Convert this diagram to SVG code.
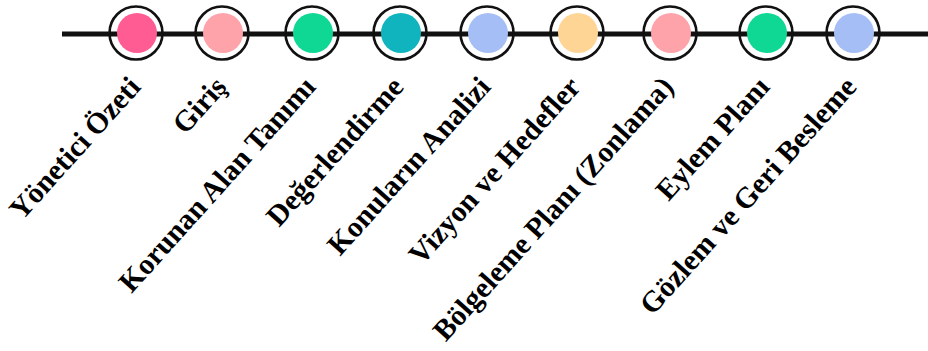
<svg xmlns="http://www.w3.org/2000/svg" width="928" height="351" viewBox="0 0 928 351">
<style>
.ring{fill:none;stroke:#111;stroke-width:2.6}
.lbl{font-family:"Liberation Serif","Times New Roman",serif;font-weight:bold;font-size:29.5px;fill:#000;text-anchor:end}
</style>
<rect width="928" height="351" fill="#fff"/>
<g id="connectors">
<line x1="62" y1="34" x2="928" y2="34" stroke="#111" stroke-width="5"/>
</g>
<g id="n1"><circle class="ring" cx="136" cy="33" r="26.5"/><circle cx="137" cy="33" r="20" fill="#FF5C93"/><text class="lbl" transform="translate(142,88) rotate(-48)">Yönetici Özeti</text></g>
<g id="n2"><circle class="ring" cx="222" cy="33" r="26.5"/><circle cx="223" cy="33" r="20" fill="#FFA3AA"/><text class="lbl" transform="translate(228,88) rotate(-48)">Giriş</text></g>
<g id="n3"><circle class="ring" cx="312" cy="33" r="26.5"/><circle cx="313" cy="33" r="20" fill="#0FD894"/><text class="lbl" transform="translate(317,88) rotate(-48)">Korunan Alan Tanımı</text></g>
<g id="n4"><circle class="ring" cx="400" cy="33" r="26.5"/><circle cx="401" cy="33" r="20" fill="#0FB4BF"/><text class="lbl" transform="translate(405,88) rotate(-48)">Değerlendirme</text></g>
<g id="n5"><circle class="ring" cx="487" cy="33" r="26.5"/><circle cx="488" cy="33" r="20" fill="#A5BFF6"/><text class="lbl" transform="translate(492,88) rotate(-48)">Konuların Analizi</text></g>
<g id="n6"><circle class="ring" cx="577" cy="33" r="26.5"/><circle cx="578" cy="33" r="20" fill="#FFD596"/><text class="lbl" transform="translate(582,88) rotate(-48)">Vizyon ve Hedefler</text></g>
<g id="n7"><circle class="ring" cx="670" cy="33" r="26.5"/><circle cx="671" cy="33" r="20" fill="#FFA3AA"/><text class="lbl" transform="translate(675,88) rotate(-48)">Bölgeleme Planı (Zonlama)</text></g>
<g id="n8"><circle class="ring" cx="766" cy="33" r="26.5"/><circle cx="767" cy="33" r="20" fill="#0FD894"/><text class="lbl" transform="translate(771,88) rotate(-48)">Eylem Planı</text></g>
<g id="n9"><circle class="ring" cx="853" cy="33" r="26.5"/><circle cx="854" cy="33" r="20" fill="#A5BFF6"/><text class="lbl" transform="translate(858,88) rotate(-48)">Gözlem ve Geri Besleme</text></g>
</svg>
